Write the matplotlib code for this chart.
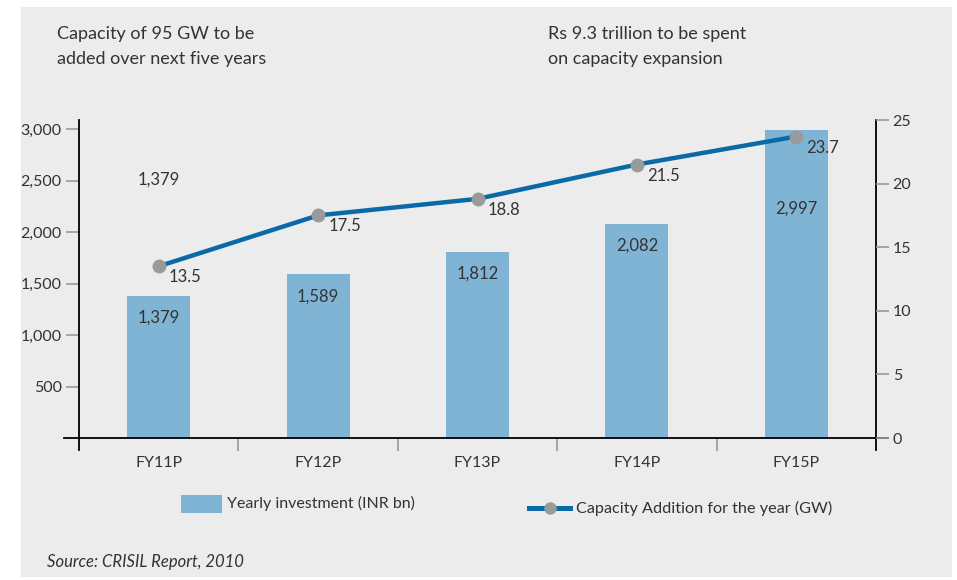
import numpy as np
import matplotlib
matplotlib.use('Agg')
import matplotlib.pyplot as plt
from matplotlib.patches import Rectangle
from matplotlib.lines import Line2D

"""Capacity addition vs yearly investment, FY11P-FY15P"""

years = ['FY11P', 'FY12P', 'FY13P', 'FY14P', 'FY15P']
investment = [1379, 1589, 1812, 2082, 2997]       # INR bn
capacity = [13.5, 17.5, 18.8, 21.5, 23.7]          # GW
left_ticks = [500, 1000, 1500, 2000, 2500, 3000]
right_ticks = [0, 5, 10, 15, 20, 25]

plt.rcParams['font.family'] = ['Lato', 'DejaVu Sans']
TXT = '#333333'
BG = '#ececec'
BAR = '#80b4d4'
LINE = '#0a6aa8'
DOT = '#9a9a9c'
TICK = '#9a9a9a'

W, H = 957, 580
fig = plt.figure(figsize=(W / 100, H / 100), dpi=100)
fig.patch.set_facecolor('white')
fig.patches.append(Rectangle((21 / W, 3 / H), (952 - 21) / W, (575 - 5) / H,
                             transform=fig.transFigure, facecolor=BG, edgecolor='none', zorder=-5))

# оси: левая граница 79px, правая 876px, низ 438px, верх 120px
ax = fig.add_axes([79 / W, 1 - 438 / H, (876 - 79) / W, (438 - 120) / H])
ax.set_facecolor('none')
x = np.arange(len(years))

ax.bar(x, investment, width=0.395, color=BAR, zorder=2)
ax.set_xlim(-0.5, len(years) - 0.5)
ax.set_ylim(0, 3090)
for s in ax.spines.values():
    s.set_visible(False)

ax.set_yticks(left_ticks)
ax.set_yticklabels(['{:,}'.format(v) for v in left_ticks])
ax.tick_params(axis='y', direction='out', length=9.5, width=1.2, color=TICK,
               labelsize=11.5, labelcolor=TXT, pad=3)

ax.set_xticks(x)
ax.set_xticklabels(years)
ax.set_xticks(x[:-1] + 0.5, minor=True)
ax.tick_params(axis='x', which='major', length=0, labelsize=11.5, labelcolor=TXT, pad=13)
ax.tick_params(axis='x', which='minor', direction='out', length=9.5, width=1.2, color=TICK)

"""подпись последнего столбца опускаем ниже, чтобы не наезжала на подпись линии"""
label_drop = [22, 22, 22, 22, 79]
for i, v in enumerate(investment):
    ax.annotate('{:,}'.format(v), (i, v), xytext=(0, -label_drop[i]), textcoords='offset pixels',
                ha='center', va='center', fontsize=12, color=TXT, zorder=4)

# лишняя подпись над первым столбцом, как в оригинале
ax.text(0, (438 - 180) / 318, '{:,}'.format(investment[0]), transform=ax.get_xaxis_transform(),
        ha='center', va='center', fontsize=12, color=TXT)

ax2 = ax.twinx()
ax2.set_ylim(0, 25)
for s in ax2.spines.values():
    s.set_visible(False)
ax2.set_yticks(right_ticks)
ax2.tick_params(axis='y', direction='out', length=9, width=1.2, color=TICK,
                labelsize=11.5, labelcolor=TXT, pad=3)
ax2.plot(x, capacity, color=LINE, linewidth=3.2, marker='o', markersize=9,
         markerfacecolor=DOT, markeredgecolor=DOT, zorder=3, solid_capstyle='round')
for i, v in enumerate(capacity):
    ax2.annotate('{:.1f}'.format(v), (i, v), xytext=(10, -11), textcoords='offset pixels',
                 ha='left', va='center', fontsize=12, color=TXT)

# линии осей, выходящие за пределы области
ax.plot([-15 / 797, 1 + 12 / 797], [0, 0], transform=ax.transAxes, color='black', lw=1.3, clip_on=False, zorder=5)
ax.plot([0, 0], [-12 / 318, 1], transform=ax.transAxes, color='black', lw=1.3, clip_on=False, zorder=5)
ax.plot([1, 1], [-12 / 318, 1], transform=ax.transAxes, color='black', lw=1.3, clip_on=False, zorder=5)

# заголовки
fig.text(57 / W, 1 - 34 / H, 'Capacity of 95 GW to be', ha='left', va='center', fontsize=13, color=TXT)
fig.text(57 / W, 1 - 59 / H, 'added over next five years', ha='left', va='center', fontsize=13, color=TXT)
fig.text(548 / W, 1 - 34 / H, 'Rs 9.3 trillion to be spent', ha='left', va='center', fontsize=13, color=TXT)
fig.text(548 / W, 1 - 59 / H, 'on capacity expansion', ha='left', va='center', fontsize=13, color=TXT)

# легенда
fig.patches.append(Rectangle((181 / W, 1 - 513 / H), 41 / W, 18 / H, transform=fig.transFigure,
                             facecolor=BAR, edgecolor='none'))
fig.text(227 / W, 1 - 503 / H, 'Yearly investment (INR bn)', ha='left', va='center', fontsize=11.5, color=TXT)
fig.lines.append(Line2D([529 / W, 570 / W], [1 - 508 / H, 1 - 508 / H], transform=fig.transFigure,
                        color=LINE, lw=3.6))
fig.lines.append(Line2D([549.5 / W], [1 - 508 / H], transform=fig.transFigure, marker='o',
                        markersize=8, color=DOT))
fig.text(576 / W, 1 - 508 / H, 'Capacity Addition for the year (GW)', ha='left', va='center', fontsize=11.7, color=TXT)

fig.text(47 / W, 1 - 562 / H, 'Source: CRISIL Report, 2010', ha='left', va='center', fontsize=12,
         style='italic', color=TXT)

fig.savefig('out.png', dpi=100, facecolor=fig.get_facecolor())
